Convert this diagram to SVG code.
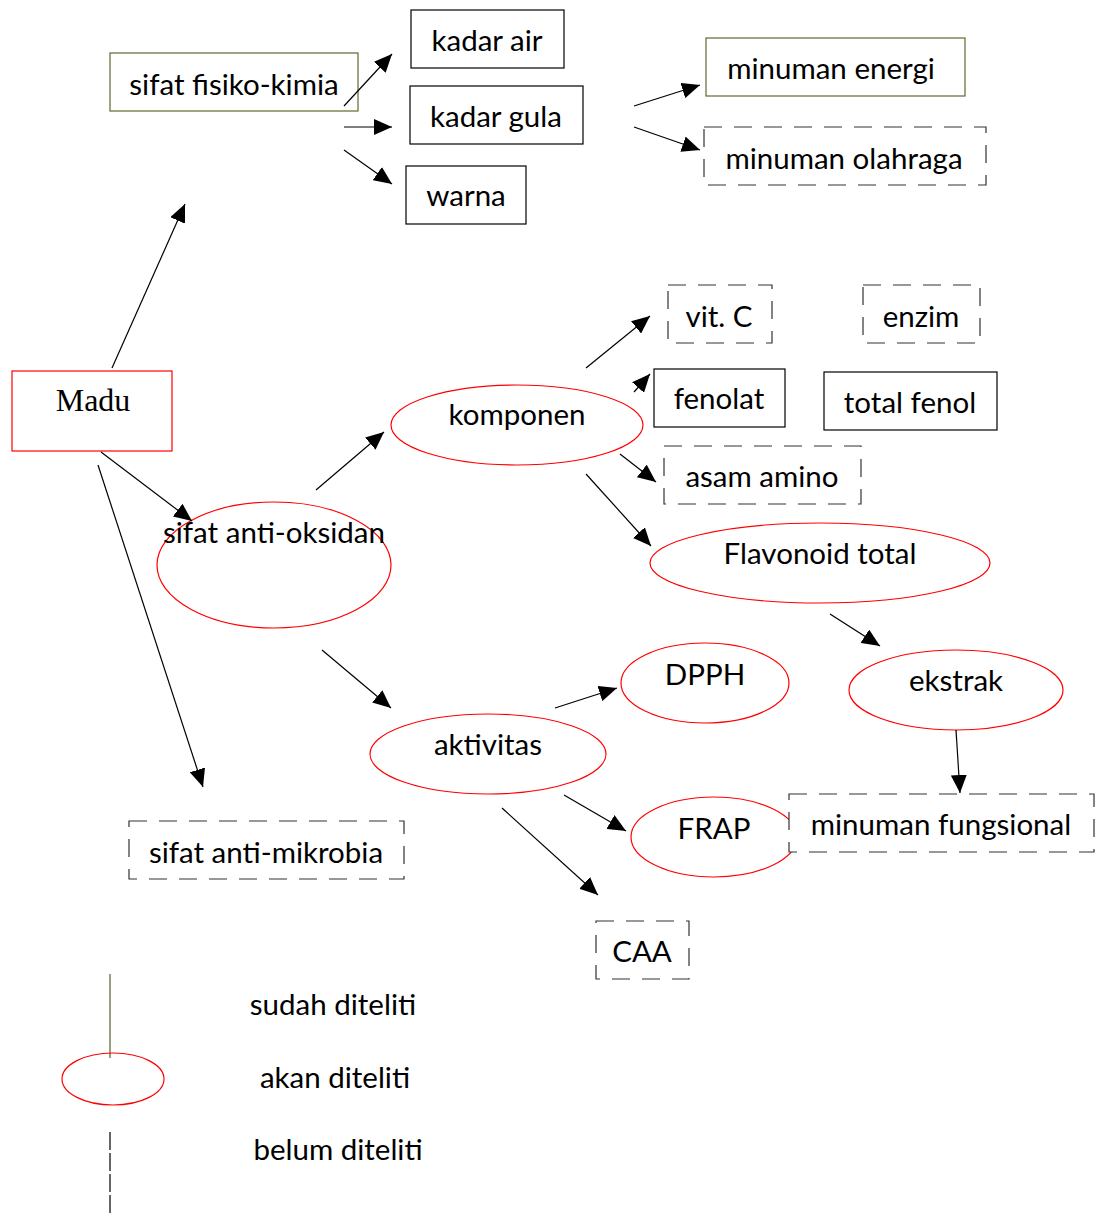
<svg xmlns="http://www.w3.org/2000/svg" width="1099" height="1216" viewBox="0 0 1099 1216">
<style>
text{font-family:Lato,"Liberation Sans",sans-serif;font-size:29.5px;fill:#000;text-anchor:middle}
.solid{fill:#fff;stroke:#000;stroke-width:1.2}
.olive{fill:#fff;stroke:#5a6b2e;stroke-width:1.2}
.dash{fill:#fff;stroke:#333;stroke-width:1.2;stroke-dasharray:18,12}
.ell{fill:none;stroke:#f00;stroke-width:1.2}
.conn line{stroke:#000;stroke-width:1.2;marker-end:url(#ah)}
</style>
<defs>
<marker id="ah" markerUnits="userSpaceOnUse" markerWidth="20" markerHeight="16" refX="18" refY="8" orient="auto"><path d="M0,0 L18,8 L0,16 z" fill="#000"/></marker>
</defs>
<rect width="1099" height="1216" fill="#fff"/>
<g id="madu"><rect x="12" y="371" width="160" height="80" fill="#fff" stroke="#f00" stroke-width="1.2"/><text x="93" y="411" style="font-family:'Liberation Serif',serif;font-size:32px">Madu</text></g>
<g id="fisiko"><rect class="olive" x="110" y="53" width="248" height="58"/><text x="234" y="95">sifat fisiko-kimia</text></g>
<g id="kadar-air"><rect class="solid" x="411" y="10" width="153" height="58"/><text x="487" y="51">kadar air</text></g>
<g id="kadar-gula"><rect class="solid" x="410" y="86" width="173" height="58"/><text x="496" y="127">kadar gula</text></g>
<g id="warna"><rect class="solid" x="406" y="166" width="120" height="58"/><text x="466" y="206">warna</text></g>
<g id="energi"><rect class="olive" x="706" y="38" width="259" height="58"/><text x="831" y="79">minuman energi</text></g>
<g id="olahraga"><rect class="dash" x="704" y="127" width="282" height="58"/><text x="844" y="169">minuman olahraga</text></g>
<g id="vitc"><rect class="dash" x="668" y="285" width="104" height="58"/><text x="719" y="327">vit. C</text></g>
<g id="enzim"><rect class="dash" x="863" y="285" width="117" height="58"/><text x="921" y="327">enzim</text></g>
<g id="fenolat"><rect class="solid" x="654" y="369" width="131" height="58"/><text x="719" y="409">fenolat</text></g>
<g id="totalfenol"><rect class="solid" x="824" y="372" width="173" height="58"/><text x="910" y="413">total fenol</text></g>
<g id="asamamino"><rect class="dash" x="664" y="446" width="197" height="58"/><text x="762" y="487">asam amino</text></g>
<g id="antioksidan"><ellipse class="ell" cx="274" cy="565" rx="117" ry="63"/><text x="274" y="543">sifat anti-oksidan</text></g>
<g id="komponen"><ellipse class="ell" cx="517" cy="425" rx="126" ry="40"/><text x="517" y="425">komponen</text></g>
<g id="flavonoid"><ellipse class="ell" cx="820" cy="563" rx="170" ry="40"/><text x="820" y="564">Flavonoid total</text></g>
<g id="dpph"><ellipse class="ell" cx="705" cy="683" rx="84" ry="40"/><text x="705" y="685">DPPH</text></g>
<g id="ekstrak"><ellipse class="ell" cx="956" cy="690" rx="107" ry="40"/><text x="956" y="691">ekstrak</text></g>
<g id="aktivitas"><ellipse class="ell" cx="488" cy="754" rx="118" ry="40"/><text x="488" y="755">aktivitas</text></g>
<g id="frap"><ellipse class="ell" cx="714" cy="837" rx="83" ry="40"/><text x="714" y="839">FRAP</text></g>
<g id="fungsional"><rect class="dash" x="789" y="794" width="305" height="58"/><text x="941" y="835">minuman fungsional</text></g>
<g id="antimikrobia"><rect class="dash" x="129" y="821" width="275" height="58"/><text x="266" y="863">sifat anti-mikrobia</text></g>
<g id="caa"><rect class="dash" x="596" y="921" width="93" height="58"/><text x="642" y="962">CAA</text></g>
<g class="conn" id="connectors">
<line x1="112" y1="368" x2="185" y2="204"/>
<line x1="344" y1="106" x2="392" y2="54"/>
<line x1="344" y1="127" x2="392" y2="127"/>
<line x1="344" y1="150" x2="392" y2="184"/>
<line x1="634" y1="106" x2="700" y2="85"/>
<line x1="634" y1="127" x2="700" y2="150"/>
<line x1="101" y1="452" x2="192" y2="521"/>
<line x1="98" y1="465" x2="203" y2="787"/>
<line x1="316" y1="490" x2="384" y2="432"/>
<line x1="322" y1="650" x2="391" y2="708"/>
<line x1="586" y1="368" x2="650" y2="316"/>
<line x1="634" y1="392" x2="650" y2="374"/>
<line x1="620" y1="454" x2="656" y2="482"/>
<line x1="586" y1="474" x2="651" y2="546"/>
<line x1="830" y1="614" x2="880" y2="646"/>
<line x1="956" y1="730" x2="960" y2="793"/>
<line x1="555" y1="708" x2="617" y2="688"/>
<line x1="564" y1="795" x2="626" y2="831"/>
<line x1="502" y1="808" x2="598" y2="895"/>
</g>
<g id="legend">
<line x1="110" y1="974" x2="110" y2="1058" stroke="#4f6228" stroke-width="1.2"/>
<ellipse class="ell" cx="113" cy="1079" rx="51" ry="26"/>
<line x1="110" y1="1132" x2="110" y2="1216" stroke="#000" stroke-width="1.2" stroke-dasharray="18,3"/>
<text x="333" y="1015">sudah diteliti</text>
<text x="335" y="1088">akan diteliti</text>
<text x="338" y="1160">belum diteliti</text>
</g>
</svg>
